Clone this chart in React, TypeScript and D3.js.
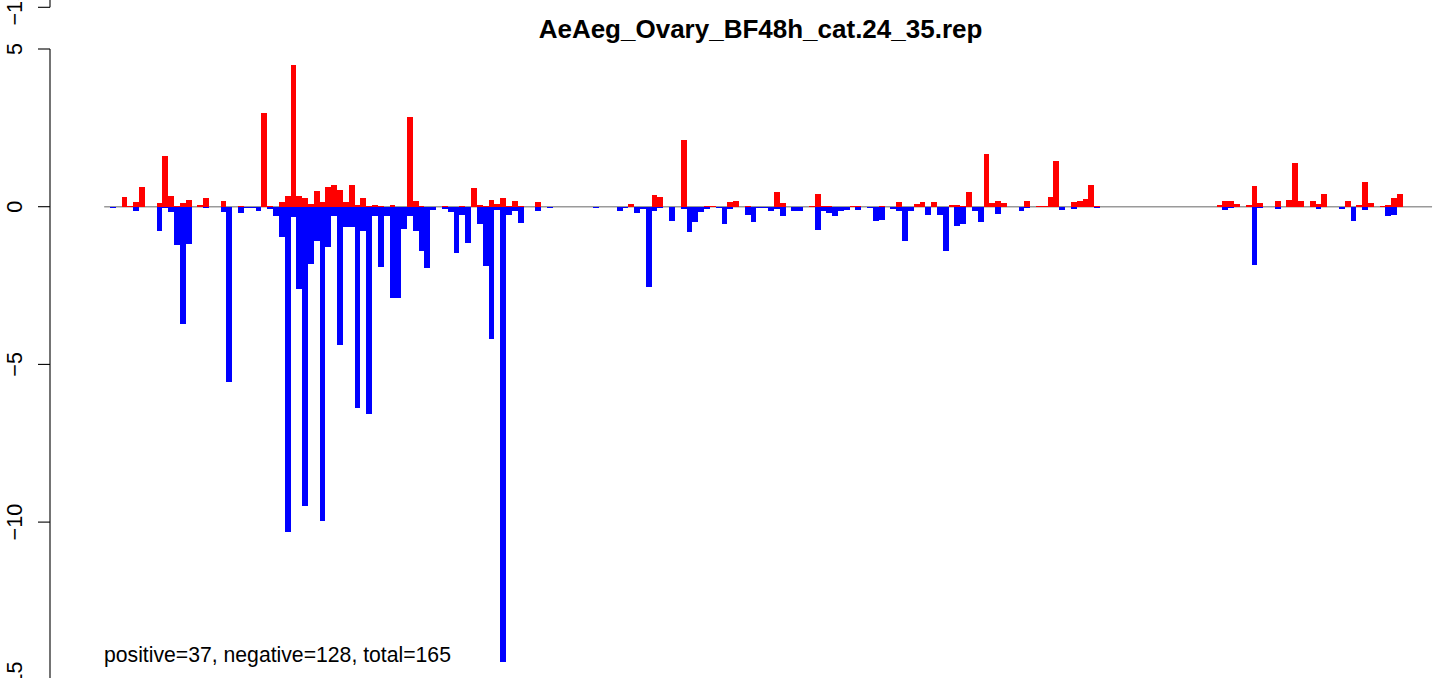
import React from "react";
import * as d3 from "d3";

const title = "AeAeg_Ovary_BF48h_cat.24_35.rep";
const summary = "positive=37, negative=128, total=165";
const binCount = 228;
const yTicks = [-15, -10, -5, 0, 5];
const upperTicks = [-15];

// value per bin (index = bin)
const positive = [
  0, 0, 0, 0.31, 0.03, 0.15, 0.62, 0, 0, 0.12,
  1.61, 0.34, 0.03, 0.12, 0.21, 0, 0.05, 0.27, 0, 0,
  0.18, 0, 0, 0.03, 0, 0, 0, 2.97, 0.02, 0,
  0.15, 0.34, 4.49, 0.34, 0.27, 0.08, 0.5, 0.15, 0.62, 0.69,
  0.53, 0.15, 0.69, 0.05, 0.27, 0.03, 0.05, 0.03, 0, 0.05,
  0, 0, 2.84, 0.18, 0.03, 0, 0, 0, 0.03, 0,
  0, 0.03, 0, 0.59, 0.05, 0.03, 0.21, 0.08, 0.28, 0.03,
  0.18, 0.03, 0, 0, 0.15, 0, 0, 0, 0, 0,
  0, 0, 0, 0, 0, 0, 0, 0, 0, 0,
  0.08, 0, 0, 0, 0.37, 0.31, 0, 0, 0, 2.11,
  0, 0, 0, 0.03, 0.03, 0, 0, 0.15, 0.19, 0,
  0.03, 0, 0, 0, 0, 0.47, 0.12, 0, 0, 0,
  0, 0.03, 0.4, 0.03, 0.03, 0, 0, 0, 0.03, 0.03,
  0, 0, 0, 0.03, 0, 0, 0.15, 0, 0, 0.1,
  0.15, 0, 0.15, 0, 0, 0.05, 0.05, 0.03, 0.47, 0,
  0, 1.67, 0.12, 0.18, 0.12, 0, 0, 0, 0.18, 0,
  0.03, 0.03, 0.31, 1.45, 0, 0, 0.15, 0.18, 0.24, 0.69,
  0.03, 0, 0, 0, 0, 0, 0, 0, 0, 0,
  0, 0, 0, 0, 0, 0, 0, 0, 0, 0,
  0, 0.05, 0.18, 0.18, 0.08, 0, 0.05, 0.66, 0.12, 0,
  0, 0.18, 0, 0.21, 1.39, 0.18, 0, 0.18, 0.08, 0.4,
  0, 0, 0, 0.18, 0, 0.05, 0.78, 0.12, 0, 0.03,
  0.05, 0.27, 0.4,
];

const negative = [
  0, -0.04, 0, 0, 0, -0.13, 0, 0, 0, -0.77,
  -0.05, -0.17, -1.22, -3.72, -1.18, 0, 0, -0.05, 0, 0,
  -0.17, -5.55, 0, -0.2, -0.04, -0.04, -0.14, 0, -0.06, -0.28,
  -0.96, -10.3, -0.32, -2.6, -9.48, -1.81, -1.08, -9.96, -1.27, -0.28,
  -4.37, -0.63, -0.63, -6.37, -0.76, -6.56, -0.28, -1.9, -0.28, -2.88,
  -2.88, -0.7, -0.3, -0.76, -1.39, -1.93, -0.1, 0, -0.06, -0.16,
  -1.46, -0.25, -1.14, 0, -0.54, -1.87, -4.18, -0.1, -14.45, -0.25,
  -0.13, -0.51, 0, 0, -0.13, 0, -0.03, 0, 0, 0,
  0, 0, 0, 0, -0.03, 0, 0, 0, -0.13, -0.03,
  0, -0.19, -0.06, -2.54, -0.13, -0.03, 0, -0.44, 0, -0.06,
  -0.79, -0.48, -0.16, -0.06, 0, -0.03, -0.54, -0.06, 0, 0,
  -0.25, -0.48, -0.03, -0.03, -0.13, -0.06, -0.29, 0, -0.13, -0.13,
  0, 0, -0.73, -0.13, -0.2, -0.29, -0.13, -0.1, 0, -0.1,
  0, -0.03, -0.44, -0.41, 0, -0.06, -0.13, -1.08, -0.13, 0,
  0, -0.25, 0, -0.25, -1.39, 0, -0.6, -0.54, 0, -0.13,
  -0.5, 0, 0, -0.22, 0, 0, 0, -0.13, -0.03, 0,
  0, 0, 0, 0, -0.1, 0, -0.06, 0, 0, 0,
  -0.03, 0, 0, 0, 0, 0, 0, 0, 0, 0,
  0, 0, 0, 0, 0, 0, 0, 0, 0, 0,
  0, 0, -0.1, -0.03, 0, 0, 0, -1.85, -0.03, 0,
  0, -0.06, 0, 0, 0, 0, 0, 0, -0.06, 0,
  0, 0, -0.06, 0, -0.44, 0, -0.1, 0, 0, 0,
  -0.29, -0.25, 0,
];

const FONT = "'Liberation Sans', Arial, Helvetica, sans-serif";

function YAxis({
  scale,
  fmt,
  ticks,
}: {
  scale: d3.ScaleLinear<number, number>;
  fmt: (n: number) => string;
  ticks: number[];
}) {
  const ax = 50;
  const [d0, d1] = scale.domain();
  return (
    <g>
      <line x1={ax} x2={ax} y1={scale(d0)} y2={scale(d1)} stroke="#000" strokeWidth={1.1} />
      {ticks.map((t) => (
        <g key={t}>
          <line x1={ax - 12} x2={ax} y1={scale(t)} y2={scale(t)} stroke="#000" strokeWidth={1.1} />
          <text
            transform={`translate(21.5,${scale(t)}) rotate(-90)`}
            textAnchor="middle"
            fontFamily={FONT}
            fontSize={21.6}
            fill="#000"
          >
            {fmt(t)}
          </text>
        </g>
      ))}
    </g>
  );
}

export default function App() {
  const W = 1444;
  const H = 678;
  const x = d3.scaleLinear().domain([0, binCount]).range([104.18, 1432.05]);
  const y = d3.scaleLinear().domain([-15, 5]).range([679.8, 49]);
  const yUpper = d3.scaleLinear().domain([-15, 5]).range([679.8 - 672.5, 49 - 672.5]);
  const fmt = d3.format("d");
  const y0 = y(0);

  return (
    <svg
      width={W}
      height={H}
      style={{ position: "absolute", left: 0, top: 0, background: "#fff" }}
    >
      <rect x={0} y={0} width={W} height={H} fill="#fff" />
      <YAxis scale={yUpper} fmt={fmt} ticks={upperTicks} />
      <YAxis scale={y} fmt={fmt} ticks={yTicks} />
      <line x1={x(0)} x2={x(binCount)} y1={y0} y2={y0} stroke="#9a9a9a" strokeWidth={1.6} />
      <g shapeRendering="crispEdges">
        {positive.map((v, i) =>
          v > 0 ? (
            <rect key={"p" + i} x={x(i)} width={x(i + 1) - x(i)} y={y(v)} height={y0 - y(v)} fill="#ff0000" />
          ) : null
        )}
        {negative.map((v, i) =>
          v < 0 ? (
            <rect key={"n" + i} x={x(i)} width={x(i + 1) - x(i)} y={y0} height={y(v) - y0} fill="#0000ff" />
          ) : null
        )}
      </g>
      <text x={760.5} y={38.3} textAnchor="middle" fontFamily={FONT} fontWeight="bold" fontSize={26} fill="#000">
        {title}
      </text>
      <text x={104} y={661.5} fontFamily={FONT} fontSize={21.2} fill="#000">
        {summary}
      </text>
    </svg>
  );
}
